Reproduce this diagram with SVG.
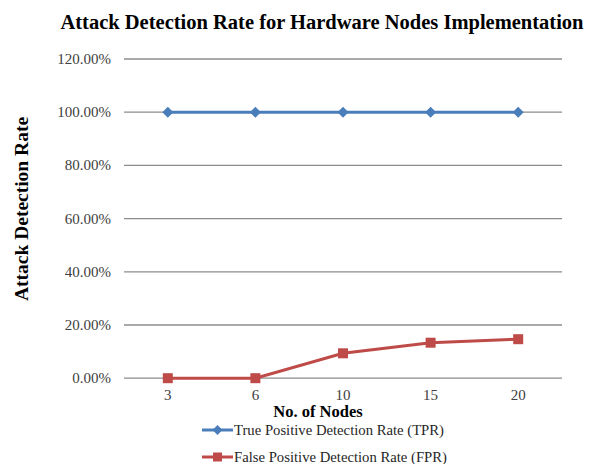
<svg xmlns="http://www.w3.org/2000/svg" width="589" height="464" viewBox="0 0 589 464">
<defs>
<style>
.grid{stroke:#8c8c8c;stroke-width:1.3}
.ylab{font-family:"Liberation Serif",serif;font-size:15px;fill:#404040;text-anchor:end}
.xlab{font-family:"Liberation Serif",serif;font-size:15px;fill:#404040;text-anchor:middle}
.title{font-family:"Liberation Serif",serif;font-weight:bold;fill:#000}
.leg{font-family:"Liberation Serif",serif;font-size:14.7px;fill:#262626}
.tpr{stroke:#4a7ebb;stroke-width:3;fill:none}
.fpr{stroke:#be4b48;stroke-width:3;fill:none}
</style>
<marker id="dia" viewBox="-6 -6 12 12" markerWidth="12" markerHeight="12" markerUnits="userSpaceOnUse" refX="0" refY="0"><path d="M0,-5.5 L5.5,0 L0,5.5 L-5.5,0Z" fill="#4a7ebb"/></marker>
<marker id="sq" viewBox="-6 -6 12 12" markerWidth="12" markerHeight="12" markerUnits="userSpaceOnUse" refX="0" refY="0"><rect x="-5" y="-5" width="10" height="10" fill="#be4b48"/></marker>
</defs>
<rect width="589" height="464" fill="#fff"/>
<text class="title" x="322" y="29" font-size="20.5" text-anchor="middle">Attack Detection Rate for Hardware Nodes Implementation</text>
<g id="grid">
<line class="grid" x1="124" y1="59" x2="562" y2="59"/>
<line class="grid" x1="124" y1="112.2" x2="562" y2="112.2"/>
<line class="grid" x1="124" y1="165.4" x2="562" y2="165.4"/>
<line class="grid" x1="124" y1="218.6" x2="562" y2="218.6"/>
<line class="grid" x1="124" y1="271.8" x2="562" y2="271.8"/>
<line class="grid" x1="124" y1="325" x2="562" y2="325"/>
<line class="grid" x1="124" y1="378.2" x2="562" y2="378.2"/>
</g>
<g id="yaxis">
<text class="ylab" x="111" y="64">120.00%</text>
<text class="ylab" x="111" y="117.2">100.00%</text>
<text class="ylab" x="111" y="170.4">80.00%</text>
<text class="ylab" x="111" y="223.6">60.00%</text>
<text class="ylab" x="111" y="276.8">40.00%</text>
<text class="ylab" x="111" y="330">20.00%</text>
<text class="ylab" x="111" y="383.2">0.00%</text>
<text class="title" font-size="19.5" text-anchor="middle" transform="translate(28,209) rotate(-90)">Attack Detection Rate</text>
</g>
<g id="xaxis">
<text class="xlab" x="167.8" y="400">3</text>
<text class="xlab" x="255.4" y="400">6</text>
<text class="xlab" x="343" y="400">10</text>
<text class="xlab" x="430.6" y="400">15</text>
<text class="xlab" x="518.2" y="400">20</text>
<text class="title" x="318" y="416.5" font-size="16.5" text-anchor="middle">No. of Nodes</text>
</g>
<g id="connectors">
<polyline id="tpr-line" class="tpr" points="167.8,112.2 255.4,112.2 343,112.2 430.6,112.2 518.2,112.2" marker-start="url(#dia)" marker-mid="url(#dia)" marker-end="url(#dia)"/>
<polyline id="fpr-line" class="fpr" points="167.8,378.2 255.4,378.2 343,353.3 430.6,342.7 518.2,339.2" marker-start="url(#sq)" marker-mid="url(#sq)" marker-end="url(#sq)"/>
</g>
<g id="legend">
<g id="legend-tpr">
<line class="tpr" x1="202" y1="430" x2="233" y2="430"/>
<path d="M217.5,425 L222.5,430 L217.5,435 L212.5,430Z" fill="#4a7ebb"/>
<text class="leg" x="234" y="435">True Positive Detection Rate (TPR)</text>
</g>
<g id="legend-fpr">
<line class="fpr" x1="202" y1="457" x2="233" y2="457"/>
<rect x="213" y="452.5" width="9" height="9" fill="#be4b48"/>
<text class="leg" x="234" y="462">False Positive Detection Rate (FPR)</text>
</g>
</g>
</svg>
